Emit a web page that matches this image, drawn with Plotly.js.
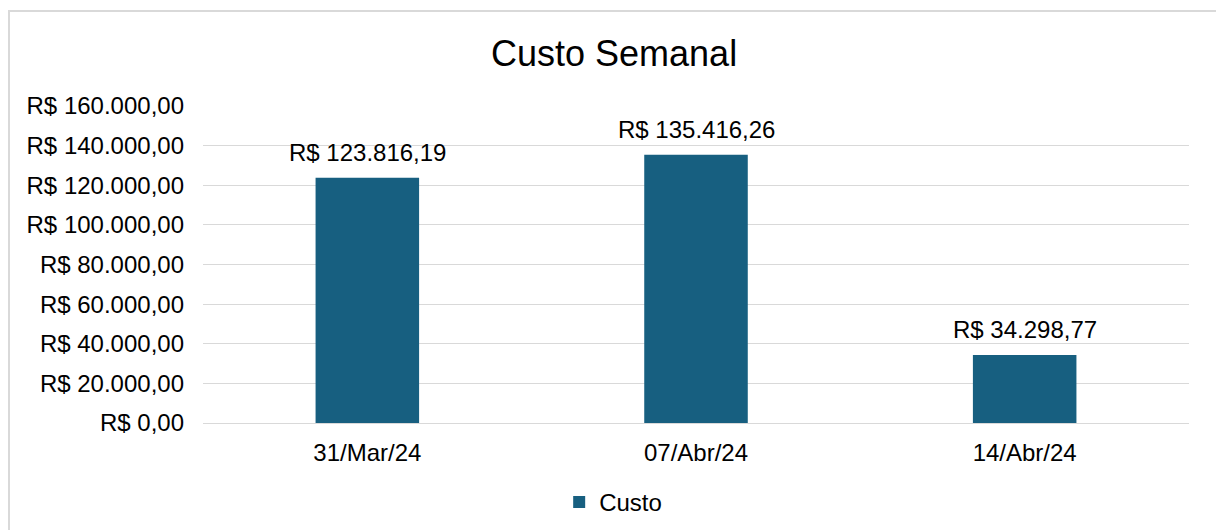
<!DOCTYPE html>
<html>
<head>
<meta charset="utf-8">
<script src="https://cdn.plot.ly/plotly-3.0.1.min.js"></script>
<style>
html,body{margin:0;padding:0;background:#fff;overflow:hidden;}
#frame{position:absolute;left:8px;top:10px;width:1300px;height:600px;border-left:2px solid #d9d9d9;border-top:2px solid #d9d9d9;}
#chart{position:absolute;left:0;top:0;width:1216px;height:530px;}
</style>
</head>
<body>
<div id="frame"></div>
<div id="chart"></div>
<script>
const categories = ["31/Mar/24", "07/Abr/24", "14/Abr/24"];
const custo = [123816.19, 135416.26, 34298.77];
const tickValues = [0, 20000, 40000, 60000, 80000, 100000, 120000, 140000, 160000];

function brl(v) {
  const parts = v.toFixed(2).split(".");
  const intPart = parts[0].replace(/\B(?=(\d{3})+(?!\d))/g, ".");
  return "R$ " + intPart + "," + parts[1];
}

const font = "Liberation Sans, Arial, sans-serif";
const barColor = "#175F80";
const fs = 24;

const trace = {
  type: "bar",
  name: "Custo",
  x: categories,
  y: custo,
  marker: {color: barColor},
  hoverinfo: "none"
};

const annotations = categories.map((c, i) => ({
  x: c,
  y: custo[i],
  xref: "x",
  yref: "y",
  text: brl(custo[i]),
  showarrow: false,
  yanchor: "bottom",
  yshift: 10,
  font: {family: font, size: fs, color: "#000"}
}));

const layout = {
  width: 1216,
  height: 530,
  paper_bgcolor: "rgba(0,0,0,0)",
  plot_bgcolor: "rgba(0,0,0,0)",
  margin: {l: 203, r: 27, t: 106, b: 107},
  bargap: 0.685,
  title: {text: "Custo Semanal", font: {family: font, size: 36, color: "#000"}, x: 0.505, xanchor: "center", y: 0.9, yanchor: "middle", yref: "container"},
  font: {family: font, size: fs, color: "#000"},
  annotations: annotations,
  xaxis: {
    type: "category",
    tickfont: {family: font, size: fs, color: "#000"},
    showgrid: false,
    showline: true,
    linecolor: "#d9d9d9",
    linewidth: 1,
    ticks: "",
    ticklabelstandoff: 8
  },
  yaxis: {
    range: [0, 160000],
    tickvals: tickValues,
    ticktext: tickValues.map(brl),
    tickfont: {family: font, size: fs, color: "#000"},
    showgrid: true,
    gridcolor: "#d9d9d9",
    gridwidth: 1,
    zeroline: false,
    showline: false,
    ticks: "",
    ticklabelstandoff: 18
  },
  showlegend: true,
  legend: {
    orientation: "h",
    x: 0.416,
    xanchor: "center",
    y: 0.052,
    yref: "container",
    yanchor: "middle",
    font: {family: font, size: fs, color: "#000"},
    itemwidth: 30,
    traceorder: "normal"
  }
};

Plotly.newPlot("chart", [trace], layout, {displayModeBar: false, staticPlot: true});
</script>
</body>
</html>
